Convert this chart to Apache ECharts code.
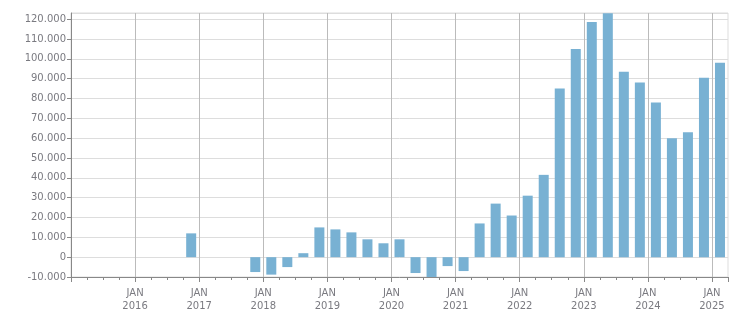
<!DOCTYPE html>
<html>
<head>
<meta charset="utf-8">
<script src="https://cdn.jsdelivr.net/npm/echarts@6/dist/echarts.min.js"></script>
<style>html,body{margin:0;padding:0;background:#fff}#c{width:751px;height:313px}</style>
</head>
<body>
<div id="c"></div>
<script>
// Quarter labels and values
const quarters = ['2016-Q4','2017-Q1','2017-Q2','2017-Q3','2017-Q4','2018-Q1','2018-Q2','2018-Q3','2018-Q4',
  '2019-Q1','2019-Q2','2019-Q3','2019-Q4','2020-Q1','2020-Q2','2020-Q3','2020-Q4',
  '2021-Q1','2021-Q2','2021-Q3','2021-Q4','2022-Q1','2022-Q2','2022-Q3','2022-Q4',
  '2023-Q1','2023-Q2','2023-Q3','2023-Q4','2024-Q1','2024-Q2','2024-Q3','2024-Q4','2025-Q1'];
const values = [12000,0,0,0,-7500,-8800,-5000,2000,15000,
  14000,12500,9000,7000,9000,-8000,-10000,-4500,
  -7000,17000,27000,21000,31000,41500,85000,105000,
  118500,123000,93500,88000,78000,60000,63000,90500,98000];
const xMin = 2015, xMax = 2025.25;
const yMin = -10000, yMax = 123100;
const monthLabel = 'JAN';

function qPos(q){ const p=q.split('-Q'); return +p[0] + (+p[1]-1)*0.25 + 0.125; }
function fmt(v){ const s=String(Math.abs(Math.round(v))).replace(/\B(?=(\d{3})+(?!\d))/g,'.'); return (v<0?'-':'')+s; }

const chart = echarts.init(document.getElementById('c'));
chart.setOption({
  animation:false,
  grid:{left:71,right:23,top:13,bottom:33,show:true,borderColor:'#dddddd',borderWidth:1},
  xAxis:{type:'value',min:xMin,max:xMax,interval:1,
    axisLine:{show:true,onZero:false,lineStyle:{color:'#888',width:1}},
    axisTick:{show:true,length:5,lineStyle:{color:'#888'}},
    minorTick:{show:true,splitNumber:4,length:3,lineStyle:{color:'#888'}},
    splitLine:{show:true,showMinLine:false,showMaxLine:false,lineStyle:{color:'#bbbbbb',width:1}},
    axisLabel:{showMinLabel:false,showMaxLabel:false,color:'#7a7a80',fontFamily:'DejaVu Sans',fontSize:10,lineHeight:13,margin:10,
      formatter:v=> (v===xMin? '' : monthLabel+'\n'+Math.round(v))}
  },
  yAxis:{type:'value',min:yMin,max:yMax,interval:10000,
    axisLine:{show:true,onZero:false,lineStyle:{color:'#888',width:1}},
    axisTick:{show:true,length:4,lineStyle:{color:'#888'}},
    splitLine:{show:true,showMaxLine:true,lineStyle:{color:'#dddddd',width:1}},
    axisLabel:{showMaxLabel:false,color:'#7a7a80',fontFamily:'DejaVu Sans',fontSize:10,margin:5,padding:[2,0,0,0],formatter:fmt}
  },
  series:[{type:'bar',barWidth:10,itemStyle:{color:'#78b1d3'},
    data:quarters.map((q,i)=>[qPos(q),values[i]])}]
});
</script>
</body>
</html>
